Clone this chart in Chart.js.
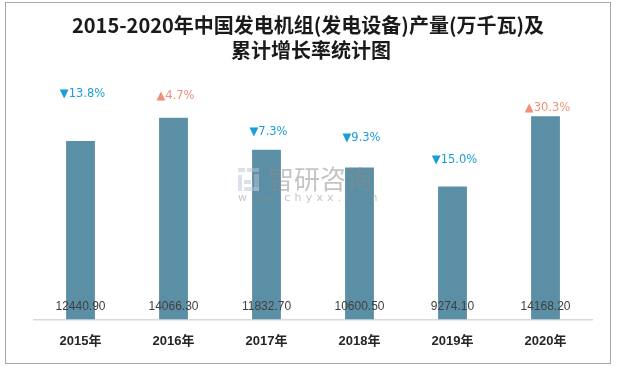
<!DOCTYPE html>
<html>
<head>
<meta charset="utf-8">
<script src="https://cdn.jsdelivr.net/npm/chart.js@4/dist/chart.umd.min.js"></script>
<style>
  html, body { margin: 0; padding: 0; background: #fff; }
  #wrap { width: 617px; height: 367px; position: relative; }
</style>
</head>
<body>
<div id="wrap"><canvas id="chartCanvas" width="617" height="367"></canvas></div>
<script>
// data
const years = ['2015年', '2016年', '2017年', '2018年', '2019年', '2020年'];
const output = [12440.90, 14066.30, 11832.70, 10600.50, 9274.10, 14168.20];
const growth = [-13.8, 4.7, -7.3, -9.3, -15.0, 30.3];
const titleLines = ['2015-2020年中国发电机组(发电设备)产量(万千瓦)及', '累计增长率统计图'];

// extra drawing: frame, title, watermark, labels
const decor = {
    id: 'decor',
    beforeDraw(chart) {
        const c = chart.ctx;
        c.save();
        c.fillStyle = '#fff';
        c.fillRect(0, 0, chart.width, chart.height);
        c.strokeStyle = '#a6a6a6';
        c.lineWidth = 1;
        c.strokeRect(5.5, 2.5, 605, 361);

        c.fillStyle = '#1a1a1a';
        c.font = 'bold 20px "Noto Sans CJK SC"';
        c.textAlign = 'center';
        c.textBaseline = 'middle';
        c.fillText(titleLines[0], 308, 25);
        c.fillText(titleLines[1], 311, 50);
        c.restore();
    },
    afterDatasetsDraw(chart) {
        const c = chart.ctx;
        const meta = chart.getDatasetMeta(0);
        const lift = [47, 22, 18, 29, 26, 8];
        c.save();
        c.textAlign = 'center';
        c.textBaseline = 'middle';

        // watermark
        c.globalAlpha = 0.5;
        c.fillStyle = '#b8c4d6';
        c.fillRect(238, 168, 7, 4);
        c.fillRect(247, 168, 12, 4);
        c.fillRect(238, 175, 4, 16);
        c.fillRect(244, 180, 7, 4);
        c.fillRect(254, 174, 5, 17);
        c.fillRect(244, 187, 15, 4);
        c.fillStyle = '#8a8a8a';
        c.font = '26px "Noto Sans CJK SC"';
        c.textAlign = 'left';
        c.fillText('智研咨询', 268, 179);
        c.font = '11px "DejaVu Sans"';
        c.letterSpacing = '4.2px';
        c.fillText('www.chyxx.com', 238, 198);
        c.letterSpacing = '0px';
        c.globalAlpha = 1;
        c.textAlign = 'center';

        meta.data.forEach((bar, i) => {
            c.fillStyle = '#404040';
            c.font = '12px "Liberation Sans"';
            c.fillText(output[i].toFixed(2), bar.x, chart.scales.y.getPixelForValue(0) - 13);

            const up = growth[i] >= 0;
            c.fillStyle = up ? '#f0907a' : '#1b9dd9';
            c.font = '11.5px "DejaVu Sans"';
            const txt = (up ? '▲' : '▼') + Math.abs(growth[i]).toFixed(1) + '%';
            c.fillText(txt, bar.x + 2, bar.y - lift[i]);
        });
        c.restore();
    }
};

const ctx = document.getElementById('chartCanvas').getContext('2d');
new Chart(ctx, {
    type: 'bar',
    data: {
        labels: years,
        datasets: [{
            data: output,
            backgroundColor: '#5b8fa6',
            borderWidth: 0,
            barPercentage: 0.31,
            categoryPercentage: 1
        }]
    },
    options: {
        responsive: false,
        animation: false,
        layout: { padding: { left: 34, right: 25, top: 80, bottom: 4 } },
        plugins: {
            legend: { display: false },
            title: { display: false },
            tooltip: { enabled: false }
        },
        scales: {
            x: {
                grid: { display: false, drawTicks: false },
                border: { color: '#d9d9d9', width: 1.5 },
                ticks: {
                    color: '#262626',
                    padding: 14,
                    font: { size: 13, weight: 'bold', family: '"Liberation Sans", "Noto Sans CJK SC"' }
                }
            },
            y: {
                display: false,
                min: 0,
                max: 16700
            }
        }
    },
    plugins: [decor]
});
</script>
</body>
</html>
